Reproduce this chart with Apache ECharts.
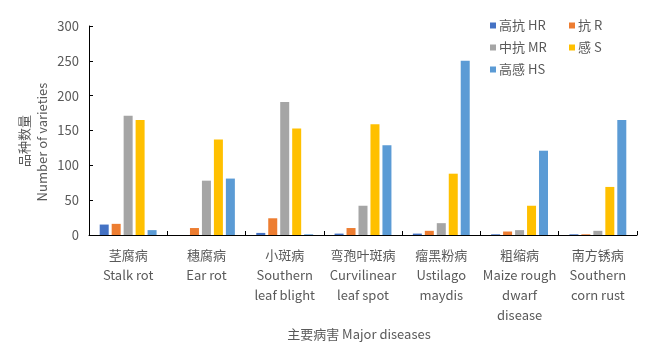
<!DOCTYPE html>
<html>
<head>
<meta charset="utf-8">
<script src="https://cdn.jsdelivr.net/npm/echarts@6/dist/echarts.min.js"></script>
<style>
html,body{margin:0;padding:0;background:#fff;}
#chart{width:650px;height:343px;}
</style>
</head>
<body>
<div id="chart"></div>
<script>
const categories = [
  '茎腐病\nStalk rot',
  '穗腐病\nEar rot',
  '小斑病\nSouthern\nleaf blight',
  '弯孢叶斑病\nCurvilinear\nleaf spot',
  '瘤黑粉病\nUstilago\nmaydis',
  '粗缩病\nMaize rough\ndwarf\ndisease',
  '南方锈病\nSouthern\ncorn rust'
];
const seriesNames = ['高抗 HR', '抗 R', '中抗 MR', '感 S', '高感 HS'];
const valuesHR = [15, 0, 3, 2, 2, 1, 1];
const valuesR  = [16, 10, 24, 10, 6, 5, 1];
const valuesMR = [171, 78, 191, 42, 17, 7, 6];
const valuesS  = [165, 137, 153, 159, 88, 42, 69];
const valuesHS = [7, 81, 1, 129, 250, 121, 165];
const yTicks = [0, 50, 100, 150, 200, 250, 300];
const yAxisTitleCN = '品种数量';
const yAxisTitleEN = 'Number of varieties';
const xAxisTitle = '主要病害 Major diseases';

const colors = ['#4472C4', '#ED7D31', '#A5A5A5', '#FFC000', '#5B9BD5'];
const allValues = [valuesHR, valuesR, valuesMR, valuesS, valuesHS];
const FONT = '"Noto Sans CJK SC", "Noto Sans", sans-serif';
const TXT = '#595959';

const chart = echarts.init(document.getElementById('chart'), null, {renderer: 'canvas'});
chart.setOption({
  animation: false,
  color: colors,
  textStyle: {fontFamily: FONT},
  grid: {left: 89, right: 13, top: 26, bottom: 108, containLabel: false},
  legend: [
    {
      data: [seriesNames[0], seriesNames[2], seriesNames[4]],
      orient: 'vertical', left: 485, top: 14, itemGap: 9,
      itemWidth: 6, itemHeight: 6, icon: 'rect',
      textStyle: {fontFamily: FONT, fontSize: 13, color: TXT, padding: [0, 0, 0, -2]}
    },
    {
      data: [seriesNames[1], seriesNames[3]],
      orient: 'vertical', left: 564, top: 14, itemGap: 9,
      itemWidth: 6, itemHeight: 6, icon: 'rect',
      textStyle: {fontFamily: FONT, fontSize: 13, color: TXT, padding: [0, 0, 0, -2]}
    }
  ],
  xAxis: {
    type: 'category',
    data: categories,
    axisLine: {lineStyle: {color: '#000', width: 1}},
    axisTick: {show: true, inside: true, length: 4, alignWithLabel: false, lineStyle: {color: '#000'}},
    axisLabel: {interval: 0, margin: 10, fontSize: 13, lineHeight: 20, color: TXT, fontFamily: FONT, align: 'center'},
    splitLine: {show: false}
  },
  yAxis: {
    type: 'value',
    min: 0, max: 300, interval: 50,
    axisLine: {show: true, lineStyle: {color: '#000', width: 1}},
    axisTick: {show: true, inside: true, length: 4, lineStyle: {color: '#000'}},
    axisLabel: {margin: 10, fontSize: 13, color: TXT, fontFamily: FONT,
      formatter: v => yTicks.includes(v) ? String(v) : ''},
    splitLine: {show: false}
  },
  graphic: [
    {type: 'text', x: 24, y: 141, rotation: Math.PI / 2,
      style: {text: yAxisTitleCN, fill: TXT, font: '13px ' + FONT, textAlign: 'center', textVerticalAlign: 'middle'}},
    {type: 'text', x: 42, y: 142, rotation: Math.PI / 2,
      style: {text: yAxisTitleEN, fill: TXT, font: '13px ' + FONT, textAlign: 'center', textVerticalAlign: 'middle'}},
    {type: 'text', x: 359, y: 334,
      style: {text: xAxisTitle, fill: TXT, font: '13px ' + FONT, textAlign: 'center', textVerticalAlign: 'middle'}}
  ],
  series: seriesNames.map((n, i) => ({
    name: n,
    type: 'bar',
    data: allValues[i],
    barWidth: 9,
    barGap: '33%',
    barCategoryGap: '27%',
    itemStyle: {color: colors[i]}
  }))
});
</script>
</body>
</html>
